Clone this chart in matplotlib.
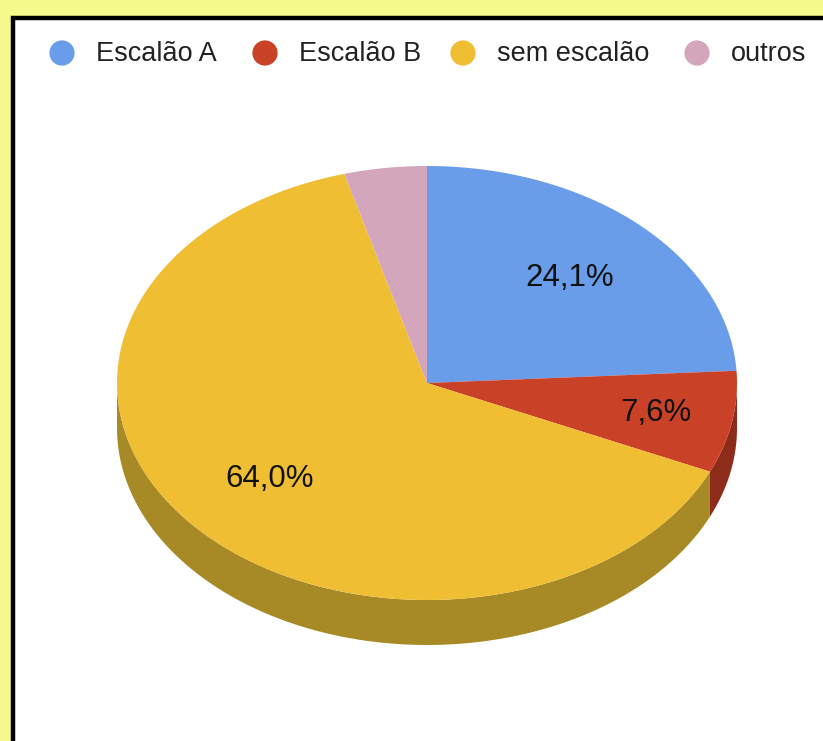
import numpy as np
import matplotlib
import matplotlib.pyplot as plt
from matplotlib.patches import Polygon, Rectangle
matplotlib.use('Agg')

labels = ['Escalão A', 'Escalão B', 'sem escalão', 'outros']
values = [24.1, 7.6, 64.0, 4.3]
colors = ['#699de9', '#c94227', '#f0be33', '#d4a6bc']
side_colors = ['#4a6ea3', '#8e2c1b', '#a78a25', '#957484']

W, H = 823, 741
cx, cy = 427, 383
rx, ry = 310, 217
depth = 45

plt.rcParams['font.family'] = ['Liberation Sans', 'DejaVu Sans']

fig = plt.figure(figsize=(W / 100, H / 100), dpi=100)
fig.patch.set_facecolor('#f6f98b')
ax = fig.add_axes([0, 0, 1, 1])
ax.set_xlim(0, W)
ax.set_ylim(H, 0)
ax.axis('off')

# white card with black border
ax.add_patch(Rectangle((13, 18), W + 20, H + 20, facecolor='white',
                       edgecolor='black', linewidth=3.2, zorder=0))


def pt(t, dy=0):
    t = np.radians(t)
    return cx + rx * np.sin(t), cy - ry * np.cos(t) + dy


fracs = np.array(values) / sum(values)
bounds = np.concatenate([[0], np.cumsum(fracs) * 360])

# side rim (front half only)
for i in range(len(values)):
    a0, a1 = max(bounds[i], 90), min(bounds[i + 1], 270)
    if a1 <= a0:
        continue
    ts = np.linspace(a0, a1, 100)
    top = [pt(t) for t in ts]
    bot = [pt(t, depth) for t in ts[::-1]]
    ax.add_patch(Polygon(top + bot, closed=True, facecolor=side_colors[i],
                         edgecolor='none', zorder=1))

# top faces
for i in range(len(values)):
    ts = np.linspace(bounds[i], bounds[i + 1], 200)
    poly = [(cx, cy)] + [pt(t) for t in ts]
    ax.add_patch(Polygon(poly, closed=True, facecolor=colors[i],
                         edgecolor='none', zorder=2))

# percentage labels (narrow slices get pushed a bit further out)
for i in range(len(values)):
    if values[i] < 5:
        continue
    frac = 0.67 if values[i] > 15 else 0.75
    mid = np.radians((bounds[i] + bounds[i + 1]) / 2)
    x = cx + frac * rx * np.sin(mid)
    y = cy - frac * ry * np.cos(mid)
    ax.text(x, y + 1, f'{values[i]:.1f}%'.replace('.', ','), fontsize=22.5,
            color='#111111', ha='center', va='center', zorder=3)

# legend
leg_x = [62, 265, 463, 697]
for i, lab in enumerate(labels):
    ax.scatter(leg_x[i], 53, s=330, color=colors[i], edgecolors='none', zorder=3)
    ax.text(leg_x[i] + 34, 54, lab, fontsize=19.5, color='#222222',
            ha='left', va='center', zorder=3)

fig.savefig('out.png', dpi=100, facecolor=fig.get_facecolor())
